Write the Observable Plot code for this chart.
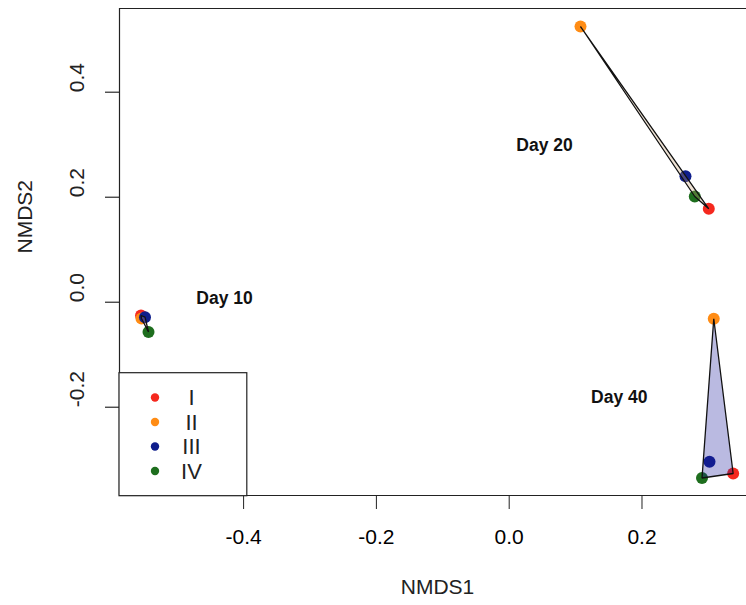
<!DOCTYPE html>
<html>
<head>
<meta charset="utf-8">
<script src="https://cdn.jsdelivr.net/npm/d3@7"></script>
<script src="https://cdn.jsdelivr.net/npm/@observablehq/plot@0.6"></script>
<style>
  html, body { margin: 0; padding: 0; background: #fff; }
  #chart { width: 746px; height: 605px; }
  svg { font-family: "Liberation Sans", Arial, Helvetica, sans-serif; }
</style>
</head>
<body>
<div id="chart"></div>
<script>
// ---- data ----
const days = ["Day 10", "Day 20", "Day 40"];
const groups = ["I", "II", "III", "IV"];
const groupColors = ["#f5281e", "#ff8c14", "#0f1e8c", "#1e6e1e"];
// NMDS scores per day, in group order I, II, III, IV
const nmds1 = {
  "Day 10": [-0.5545, -0.5538, -0.5485, -0.5432],
  "Day 20": [0.3006, 0.1074, 0.2655, 0.2795],
  "Day 40": [0.3373, 0.3081, 0.3017, 0.2904]
};
const nmds2 = {
  "Day 10": [-0.0253, -0.0310, -0.0286, -0.0568],
  "Day 20": [0.1779, 0.5251, 0.2400, 0.2013],
  "Day 40": [-0.3263, -0.0316, -0.3040, -0.3349]
};
const hullFills = ["#c98a8a", "#c8a070", "#1a1a9c"];
const dayLabelX = [-0.4287, 0.0532, 0.1658];
const dayLabelY = [0.0070, 0.2985, -0.1821];
const xTicks = [-0.4, -0.2, 0.0, 0.2];
const yTicks = [-0.2, 0.0, 0.2, 0.4];
const xDomain = [-0.5869, 0.3574];
const yDomain = [-0.3682, 0.5594];

// ---- build table ----
const points = [];
days.forEach(day => groups.forEach((g, i) => {
  points.push({day, group: g, x: nmds1[day][i], y: nmds2[day][i]});
}));
const labels = days.map((d, i) => ({text: d, x: dayLabelX[i], y: dayLabelY[i]}));

const font = 21;
const marks = [];

// frame: top, left, bottom lines (right edge is beyond the picture)
marks.push(Plot.ruleY([yDomain[1]], {stroke: "#222", strokeWidth: 1.2}));
marks.push(Plot.ruleY([yDomain[0]], {stroke: "#222", strokeWidth: 1.2}));
marks.push(Plot.ruleX([xDomain[0]], {stroke: "#222", strokeWidth: 1.2}));

// axes
marks.push(Plot.axisX({ticks: xTicks, tickSize: 14, tickPadding: 20, tickFormat: d => d.toFixed(1), fontSize: font, label: null, stroke: "#222"}));
if (Plot.axisTickY) {
  marks.push(Plot.axisTickY({ticks: yTicks, tickSize: 14, stroke: "#222"}));
} else {
  marks.push(Plot.axisY({ticks: yTicks, tickSize: 14, tickFormat: () => "", label: null}));
}
marks.push(Plot.text(yTicks, {y: d => d, text: d => d.toFixed(1), frameAnchor: "left", dx: -42, rotate: -90, fontSize: font, fill: "#222"}));

// axis titles
marks.push(Plot.text(["NMDS1"], {frameAnchor: "bottom", dy: 98, dx: 4.5, fontSize: font, fill: "#222"}));
marks.push(Plot.text(["NMDS2"], {frameAnchor: "left", dx: -94, dy: 1.5, rotate: -90, fontSize: font, fill: "#222"}));

// points
groups.forEach((g, i) => {
  marks.push(Plot.dot(points.filter(p => p.group === g), {x: "x", y: "y", r: 6, fill: groupColors[i], stroke: null}));
});

// hulls (drawn over the points, as in the original)
days.forEach((day, i) => {
  marks.push(Plot.hull(points.filter(p => p.day === day), {x: "x", y: "y", fill: hullFills[i], fillOpacity: 0.3, stroke: "#111", strokeWidth: 1.3}));
});

// day labels
marks.push(Plot.text(labels, {x: "x", y: "y", text: "text", fontSize: 17.5, fontWeight: "bold", fill: "#111"}));

const plot = Plot.plot({
  width: 746,
  height: 605,
  marginLeft: 119,
  marginRight: 0,
  marginTop: 8,
  marginBottom: 110,
  x: {domain: xDomain},
  y: {domain: yDomain},
  style: {fontFamily: '"Liberation Sans", Arial, Helvetica, sans-serif', background: "#fff", overflow: "visible"},
  marks
});
document.getElementById("chart").appendChild(plot);

// legend box (bottom-left, overlapping the plot frame like R's legend)
const svg = d3.select(plot.tagName.toLowerCase() === "svg" ? plot : plot.querySelector("svg"));
const lg = svg.append("g").attr("class", "legend");
lg.append("rect")
  .attr("x", 119).attr("y", 372.7).attr("width", 127.8).attr("height", 123)
  .attr("fill", "#fff").attr("stroke", "#222").attr("stroke-width", 1.2);
groups.forEach((g, i) => {
  const cy = 397.5 + 24.5 * i;
  lg.append("circle").attr("cx", 155).attr("cy", cy).attr("r", 4.2).attr("fill", groupColors[i]);
  lg.append("text").attr("x", 191.5).attr("y", cy).attr("dy", "0.36em")
    .attr("font-size", 22).attr("fill", "#222").text(g);
});
</script>
</body>
</html>
